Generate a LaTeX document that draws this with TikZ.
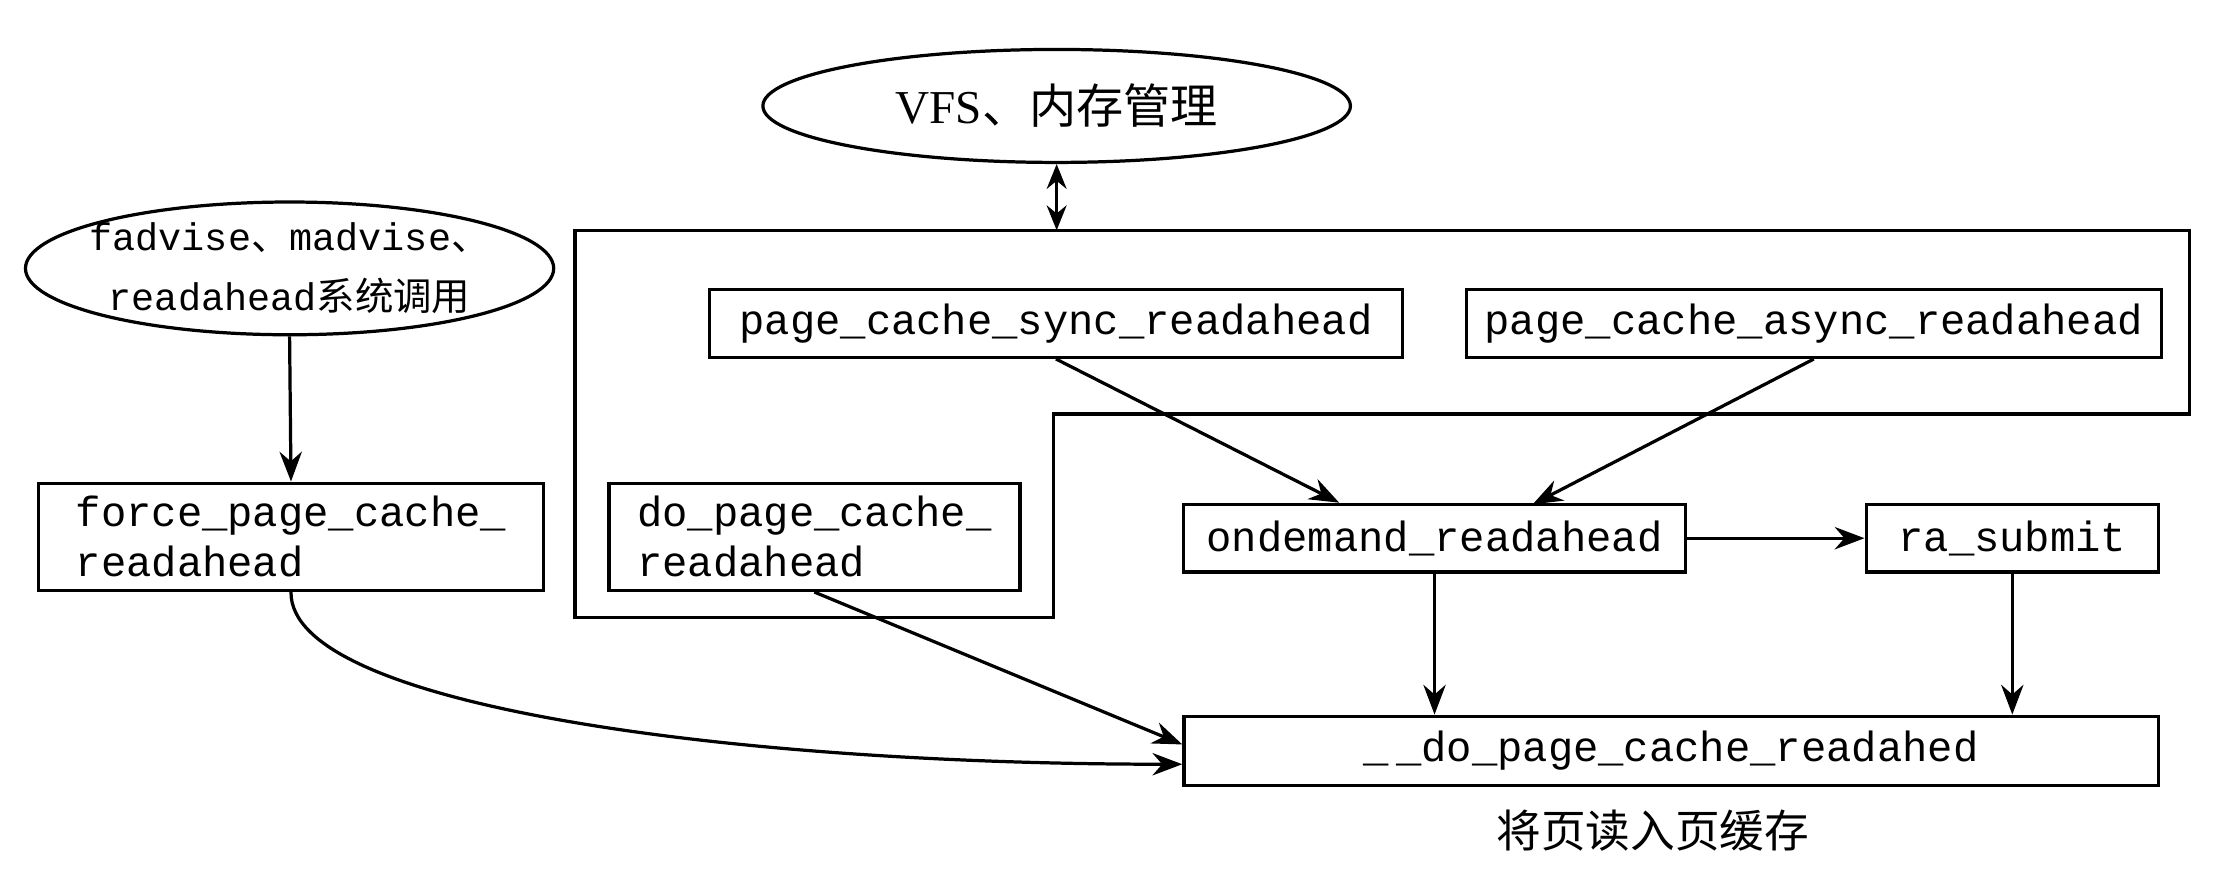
\documentclass[tikz,border=0pt]{standalone}
\usepackage{fontspec}
\setmainfont{Liberation Serif}
\setmonofont{Liberation Mono}
\newfontfamily\cjk{Noto Sans CJK SC}
\usetikzlibrary{arrows.meta,shapes.geometric}
\begin{document}
\begin{tikzpicture}[x=0.02cm,y=-0.02cm,line width=1.3pt,
  box/.style={draw,rectangle,inner sep=0pt,font=\ttfamily\fontsize{17}{20}\selectfont},
  ell/.style={draw,ellipse,inner sep=0pt},
  arr/.style={-{Stealth[length=12pt,width=9pt]}}]
\useasboundingbox (0,0) rectangle (1568,617);
\node[ell,minimum width=8.32cm,minimum height=1.6cm] (vfs) at (748,75) {};
\node[font=\fontsize{19}{22}\selectfont] (vfst) at (vfs.center) {VFS{\cjk 、内存管理}};
\node[ell,minimum width=7.48cm,minimum height=1.88cm] (fad) at (205,190) {};
\node[align=center,font=\ttfamily\fontsize{15.5}{24}\selectfont] (fadt) at (fad.center) {fadvise{\cjk 、}madvise{\cjk 、}\\readahead{\cjk 系统调用}};
\draw (407,163) -- (1550,163) -- (1550,293) -- (746,293) -- (746,437) -- (407,437) -- cycle;
\coordinate (top) at (748,163);
\node[box,minimum width=9.82cm,minimum height=0.96cm] (sync) at (747.5,229) {page\_cache\_sync\_readahead};
\node[box,minimum width=9.84cm,minimum height=0.96cm] (async) at (1284,229) {page\_cache\_async\_readahead};
\node[box,minimum width=7.16cm,minimum height=1.52cm,align=left] (force) at (206,380) {force\_page\_cache\_\\readahead};
\node[box,minimum width=5.82cm,minimum height=1.52cm,align=left] (dopc) at (576.5,380) {do\_page\_cache\_\\readahead};
\node[box,minimum width=7.1cm,minimum height=0.96cm] (ond) at (1015.5,381) {ondemand\_readahead};
\node[box,minimum width=4.14cm,minimum height=0.96cm] (ra) at (1424.5,381) {ra\_submit};
\node[box,minimum width=13.8cm,minimum height=0.98cm] (do) at (1183,531.5) {\_\,\_do\_page\_cache\_readahed};
\node[font=\cjk\fontsize{18}{22}\selectfont] (lbl) at (1170,588) {将页读入页缓存};
\draw[{Stealth[length=10pt,width=8pt]}-{Stealth[length=10pt,width=8pt]}] (vfs.south) -- (top);
\draw[arr] (fad.south) -- (force.north);
\draw[arr] (sync.south) -- (ond.north west -| 948,357);
\draw[arr] (async.south) -- (1085,357);
\draw[arr] (ond.east) -- (ra.west);
\draw[arr] (ond.south) -- (do.north -| ond.south);
\draw[arr] (ra.south) -- (do.north -| ra.south);
\draw[arr] (dopc.south) -- (do.west |- 0,527);
\draw[arr] (force.south) .. controls (205,500) and (520,541) .. (do.west |- 0,541);
\end{tikzpicture}
\end{document}
